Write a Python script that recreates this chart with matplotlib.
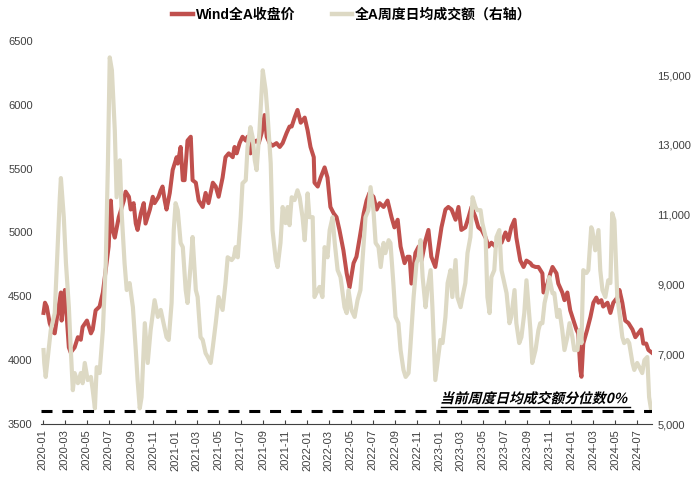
import numpy as np
import pandas as pd
import matplotlib
matplotlib.use('Agg')
import matplotlib.pyplot as plt
import matplotlib.dates as mdates
from matplotlib.ticker import FuncFormatter, MultipleLocator, FixedLocator
from matplotlib.textpath import TextPath
from matplotlib.patches import PathPatch
from matplotlib.font_manager import FontProperties
from matplotlib.transforms import Affine2D
from matplotlib.lines import Line2D

plt.rcParams['font.family'] = ['Liberation Sans', 'Noto Sans CJK SC', 'DejaVu Sans']

#%% Data (day offsets from 2020-01-01)
start = pd.Timestamp('2020-01-01')

# Wind全A收盘价
idx_day = [2, 6, 11, 19, 28, 33, 41, 50, 52, 61,
           66, 72, 77, 88, 97, 105, 110, 122, 133, 138,
           146, 157, 166, 174, 182, 188, 193, 199, 210, 224,
           229, 238, 243, 251, 257, 262, 271, 279, 284, 296,
           304, 309, 320, 326, 331, 337, 342, 351, 359, 370,
           373, 381, 387, 392, 400, 409, 414, 423, 431, 442,
           450, 458, 470, 478, 486, 497, 505, 514, 525, 530,
           536, 544, 552, 561, 566, 574, 580, 591, 597, 605,
           613, 619, 627, 635, 646, 655, 663, 674, 682, 688,
           696, 704, 713, 724, 732, 740, 749, 751, 760, 768,
           779, 787, 795, 804, 812, 820, 831, 840, 848, 859,
           867, 876, 887, 895, 903, 914, 923, 931, 942, 953,
           964, 972, 981, 989, 1000, 1008, 1014, 1019, 1030, 1039,
           1047, 1058, 1066, 1074, 1085, 1094, 1102, 1113, 1121, 1130,
           1141, 1149, 1157, 1168, 1177, 1185, 1196, 1204, 1213, 1224,
           1232, 1240, 1251, 1259, 1268, 1279, 1287, 1295, 1304, 1309,
           1320, 1329, 1337, 1348, 1353, 1362, 1370, 1381, 1384, 1395,
           1403, 1409, 1420, 1425, 1436, 1442, 1450, 1458, 1467, 1475,
           1480, 1486, 1489, 1494, 1505, 1514, 1522, 1530, 1536, 1544,
           1549, 1561, 1569, 1577, 1588, 1594, 1602, 1610, 1619, 1630,
           1638, 1646, 1654, 1660, 1668, 1674, 1683]
idx_close = [4370, 4450, 4420, 4290, 4220, 4210, 4370, 4530, 4310, 4550,
             4340, 4100, 4060, 4100, 4180, 4160, 4260, 4310, 4210, 4240,
             4390, 4420, 4530, 4710, 4890, 5250, 5020, 4960, 5120, 5250,
             5320, 5280, 5180, 5230, 5070, 5020, 5150, 5230, 5070, 5180,
             5280, 5230, 5280, 5330, 5360, 5250, 5180, 5310, 5490, 5590,
             5540, 5670, 5410, 5410, 5720, 5750, 5410, 5390, 5250, 5200,
             5310, 5230, 5390, 5360, 5280, 5430, 5590, 5620, 5590, 5670,
             5620, 5700, 5750, 5720, 5750, 5620, 5700, 5720, 5700, 5780,
             5920, 5750, 5700, 5680, 5700, 5670, 5700, 5780, 5830, 5830,
             5900, 5960, 5860, 5900, 5800, 5670, 5590, 5390, 5360, 5430,
             5510, 5430, 5200, 5150, 5120, 5020, 4860, 4680, 4570, 4760,
             4810, 4960, 5150, 5250, 5310, 5280, 5180, 5230, 5200, 5250,
             5120, 5040, 5100, 4890, 4760, 4810, 4810, 4600, 4840, 4890,
             4780, 4940, 5020, 4810, 4730, 4890, 5040, 5180, 5200, 5180,
             5100, 5200, 5020, 5040, 5120, 5200, 5120, 5040, 5020, 4960,
             4890, 4920, 4890, 4960, 4920, 5000, 4940, 5040, 5100, 4960,
             4780, 4730, 4780, 4760, 4740, 4730, 4730, 4680, 4530, 4600,
             4680, 4730, 4680, 4600, 4530, 4470, 4530, 4390, 4310, 4240,
             4210, 3920, 3870, 4130, 4240, 4340, 4450, 4490, 4450, 4470,
             4420, 4450, 4370, 4450, 4490, 4550, 4450, 4310, 4290, 4240,
             4180, 4210, 4240, 4130, 4130, 4080, 4060]

# 全A周度日均成交额 (亿元)
amt_day = [2, 4, 8, 17, 22, 33, 39, 47, 50, 58,
           64, 72, 77, 83, 88, 97, 105, 110, 116, 124,
           133, 138, 144, 149, 157, 166, 174, 180, 185, 191,
           199, 204, 213, 218, 226, 232, 240, 249, 257, 262,
           268, 273, 282, 290, 298, 309, 318, 326, 342, 348,
           356, 362, 367, 373, 381, 387, 395, 400, 409, 414,
           423, 428, 436, 442, 450, 456, 464, 470, 478, 486,
           497, 505, 511, 522, 528, 533, 539, 547, 552, 561,
           566, 574, 580, 586, 591, 599, 608, 616, 621, 630,
           635, 644, 649, 657, 663, 671, 677, 682, 688, 696,
           704, 710, 718, 724, 732, 737, 746, 751, 760, 765,
           773, 779, 787, 793, 801, 807, 815, 823, 834, 840,
           845, 853, 862, 870, 878, 887, 892, 900, 906, 914,
           920, 928, 934, 942, 947, 956, 961, 969, 975, 983,
           989, 997, 1003, 1011, 1016, 1025, 1033, 1039, 1044, 1050,
           1058, 1063, 1072, 1077, 1085, 1091, 1099, 1105, 1113, 1119,
           1127, 1132, 1141, 1146, 1155, 1160, 1168, 1174, 1182, 1188,
           1196, 1201, 1210, 1215, 1224, 1229, 1235, 1240, 1248, 1254,
           1262, 1268, 1276, 1282, 1290, 1295, 1304, 1309, 1317, 1323,
           1331, 1337, 1342, 1348, 1353, 1362, 1370, 1375, 1381, 1387,
           1395, 1400, 1409, 1414, 1422, 1428, 1436, 1442, 1450, 1456,
           1464, 1469, 1478, 1483, 1489, 1494, 1503, 1508, 1516, 1519,
           1527, 1536, 1541, 1547, 1555, 1563, 1569, 1574, 1580, 1588,
           1594, 1602, 1607, 1616, 1621, 1630, 1635, 1643, 1649, 1657,
           1663, 1671, 1676, 1682]
amt_value = [7120, 6750, 6350, 7210, 7690, 8180, 9610, 11500, 12050, 10930,
             9610, 8350, 7210, 5970, 6460, 6170, 6460, 6170, 6750, 6260,
             6350, 5970, 5450, 6630, 6460, 7690, 9610, 12480, 15510, 15140,
             13420, 11500, 12560, 11040, 9610, 8840, 9040, 8350, 7120, 6260,
             5450, 5770, 7890, 6750, 7690, 8550, 8070, 8270, 7490, 7410,
             8470, 10560, 11330, 11130, 10190, 10070, 8840, 8470, 9610, 10360,
             8840, 8640, 7490, 7410, 7030, 6920, 6750, 7210, 7890, 8640,
             8270, 9040, 9780, 9700, 9780, 10070, 9780, 10930, 11900, 11990,
             12940, 13510, 13220, 12560, 12280, 13420, 15140, 14570, 13910, 12480,
             10560, 9700, 9500, 10190, 11220, 10760, 11220, 10700, 11500, 11420,
             11700, 11500, 10930, 10270, 11610, 10930, 10930, 8640, 8840, 8930,
             8640, 10070, 9780, 10560, 10930, 10190, 9410, 9210, 8350, 8180,
             8840, 8270, 8070, 8550, 8840, 10190, 10930, 11130, 11790, 11130,
             10190, 10070, 9500, 10190, 9900, 10270, 10190, 9040, 8070, 7890,
             7120, 6550, 6350, 6460, 7200, 8640, 9610, 9780, 10270, 9210,
             8350, 8840, 9410, 8350, 6260, 6750, 7410, 7320, 8070, 9040,
             9410, 8640, 9700, 8640, 8350, 8640, 9040, 9900, 10360, 11500,
             11220, 11130, 11130, 10760, 10360, 8640, 8180, 9210, 9410, 10360,
             10560, 9410, 9040, 8750, 7890, 8070, 8840, 7890, 7320, 7490,
             8180, 9120, 8470, 7690, 6750, 7120, 7690, 7890, 7890, 8470,
             8840, 9210, 8750, 8750, 8070, 8270, 7690, 7120, 7490, 7890,
             7490, 7120, 7120, 7690, 7320, 9410, 9330, 9410, 10640, 10560,
             9980, 10560, 9410, 8840, 8640, 9120, 9040, 11040, 10840, 8640,
             8180, 7490, 7320, 7410, 7320, 6750, 6550, 6750, 6630, 6460,
             6830, 6920, 5770, 5380]

note_text = '当前周度日均成交额分位数0%'
legend_labels = ['Wind全A收盘价', '全A周度日均成交额（右轴）']
left_ticks = [3500, 4000, 4500, 5000, 5500, 6000, 6500]
right_ticks = [5000, 7000, 9000, 11000, 13000, 15000]

red = '#C0504D'
tan = '#DDD9C4'
grey = '#404040'

idx_dates = start + pd.to_timedelta(idx_day, unit='D')
amt_dates = start + pd.to_timedelta(amt_day, unit='D')

#%% Figure
fig = plt.figure(figsize=(7, 4.83), dpi=100)
ax = fig.add_axes([41 / 700, 1 - 424 / 483, 611 / 700, 383 / 483])
ax2 = ax.twinx()

ax.plot(idx_dates, idx_close, color=red, lw=2.9, solid_joinstyle='round')
ax2.plot(amt_dates, amt_value, color=tan, lw=3.0, solid_joinstyle='round')
ax2.axhline(amt_value[-1], color='black', lw=2.2, linestyle=(0, (3.6, 3.2)))

ax.set_xlim(start - pd.Timedelta(days=5), start + pd.Timedelta(days=1684))
ax.set_ylim(3500, 6500)
ax2.set_ylim(5000, 15980)

ax.yaxis.set_major_locator(FixedLocator(left_ticks))
ax2.yaxis.set_major_locator(FixedLocator(right_ticks))
ax2.yaxis.set_major_formatter(FuncFormatter(lambda v, p: f'{int(v):,}'))
ax.xaxis.set_major_locator(mdates.MonthLocator(bymonth=[1, 3, 5, 7, 9, 11]))
ax.xaxis.set_major_formatter(mdates.DateFormatter('%Y-%m'))

for a in (ax, ax2):
    for s in ('top', 'left', 'right'):
        a.spines[s].set_visible(False)
ax2.spines['bottom'].set_visible(False)
ax.spines['bottom'].set_color(grey)
ax.spines['bottom'].set_linewidth(0.8)

ax.tick_params(axis='y', length=0, pad=6, labelsize=8, labelcolor=grey)
ax2.tick_params(axis='y', length=0, pad=4, labelsize=8, labelcolor=grey)
ax.tick_params(axis='x', direction='in', length=3, color=grey, pad=4,
               labelsize=8, labelcolor=grey, labelrotation=90)

# legend
handles = [Line2D([], [], color=red, lw=3.2), Line2D([], [], color=tan, lw=3.2)]
fig.legend(handles, legend_labels, loc='center', bbox_to_anchor=(0.503, 0.969),
           ncol=2, frameon=False, handlelength=1.5, handletextpad=0.2, columnspacing=2.6,
           prop=FontProperties(family=['Liberation Sans', 'Noto Sans CJK SC'], weight='bold', size=10))

# slanted, underlined note
W = fig.get_figwidth() * fig.dpi
H = fig.get_figheight() * fig.dpi
fp = FontProperties(family='Noto Sans CJK SC', weight='bold')
tp = TextPath((0, 0), note_text, size=13.8, prop=fp)
x0, y0 = 440, 483 - 403
trans = Affine2D().skew_deg(14, 0).translate(x0, y0).scale(1 / W, 1 / H) + fig.transFigure
fig.add_artist(PathPatch(tp, transform=trans, color='black', lw=0))
ext = tp.get_extents()
fig.add_artist(Line2D([(x0 + ext.x0) / W, (x0 + ext.x1 + 3) / W], [(y0 - 3.5) / H, (y0 - 3.5) / H],
                      transform=fig.transFigure, color='black', lw=1.0))

fig.savefig('out.png', dpi=100)
